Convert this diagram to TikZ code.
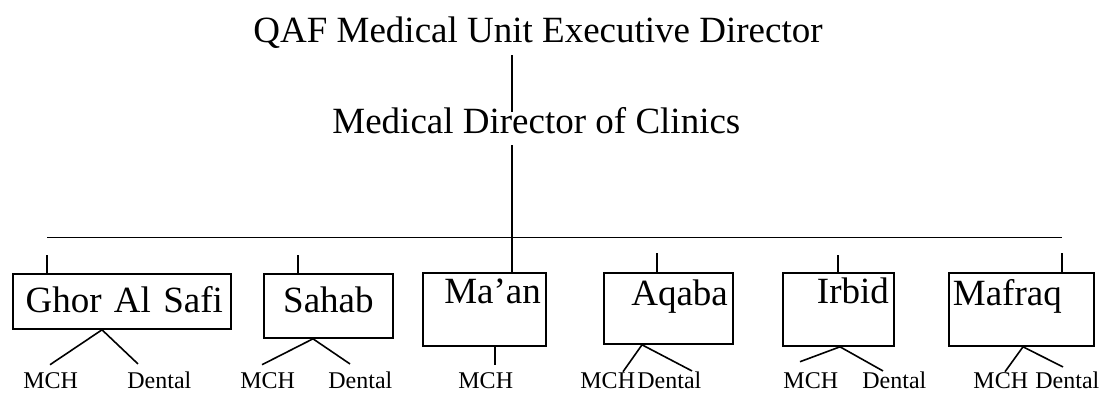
\documentclass[tikz,border=0pt]{standalone}
\usepackage{fontspec}
\setmainfont{Liberation Serif}
\usetikzlibrary{calc}

\begin{document}
\begin{tikzpicture}[
        x=0.5pt, y=-0.5pt,
        headtext/.style={inner sep=0pt, anchor=base west, font=\fontsize{18.5}{22}\selectfont},
        clinicbox/.style={draw=black, line width=0.9pt, inner ysep=0pt, anchor=north west, font=\fontsize{18.5}{22}\selectfont},
        servtext/.style={inner sep=0pt, anchor=base west, font=\fontsize{12}{14}\selectfont},
        mainline/.style={line width=1.4pt},
        stemline/.style={line width=1pt},
        barline/.style={line width=0.5pt},
        branchline/.style={line width=0.8pt}
    ]
        \useasboundingbox (0,0) rectangle (1101,393);

        % Directors
        \node[headtext] (exec) at (253,42) {QAF Medical Unit Executive Director};
        \node[headtext] (mdir) at (332,133) {Medical Director of Clinics};

        % Clinics
        \node[clinicbox, text width=101pt, inner xsep=4pt, text height=19.5pt, text depth=8pt, align=right] (ghor) at (12,273) {Ghor Al Safi};
        \node[clinicbox, text width=54.5pt, inner xsep=5pt, text height=19.5pt, text depth=12.5pt, align=center] (sahab) at (263,273) {Sahab};
        \node[clinicbox, text width=56.5pt, inner xsep=2.5pt, text height=15.5pt, text depth=21pt, align=right] (maan) at (422,272) {Ma’an};
        \node[clinicbox, text width=59.5pt, inner xsep=2.5pt, text height=16.5pt, text depth=19pt, align=right] (aqaba) at (603,272) {Aqaba};
        \node[clinicbox, text width=50.5pt, inner xsep=2.5pt, text height=15.5pt, text depth=21pt, align=right] (irbid) at (782,272) {Irbid};
        \node[clinicbox, text width=68.5pt, inner xsep=2pt, text height=16.5pt, text depth=20pt, align=left] (mafraq) at (948,272) {Mafraq};

        % Services
        \node[servtext] (mch1) at (23,388) {MCH};
        \node[servtext] (den1) at (127,388) {Dental};
        \node[servtext] (mch2) at (240,388) {MCH};
        \node[servtext] (den2) at (328,388) {Dental};
        \node[servtext] (mch3) at (458,388) {MCH};
        \node[servtext] (mch4) at (580,388) {MCH};
        \node[servtext] (den4) at (637,388) {Dental};
        \node[servtext] (mch5) at (783,388) {MCH};
        \node[servtext] (den5) at (862,388) {Dental};
        \node[servtext] (mch6) at (973,388) {MCH};
        \node[servtext] (den6) at (1035,388) {Dental};

        % Main line
        \draw[mainline] ($(exec.base west)+(259,13)$) -- ($(mdir.base west)+(180,-21)$);
        \draw[mainline] ($(mdir.base west)+(180,12)$) -- ($(maan.north west)+(90,0)$);
        \draw[barline] ($(ghor.north west)+(35,-36)$) -- ($(mafraq.north west)+(114,-35)$);

        % Stems
        \draw[stemline] ($(ghor.north west)+(35,-18)$) -- ($(ghor.north west)+(35,0)$);
        \draw[stemline] ($(sahab.north west)+(35,-18)$) -- ($(sahab.north west)+(35,0)$);
        \draw[stemline] ($(aqaba.north west)+(54,-19)$) -- ($(aqaba.north west)+(54,0)$);
        \draw[stemline] ($(irbid.north west)+(56,-17)$) -- ($(irbid.north west)+(56,0)$);
        \draw[stemline] ($(mafraq.north west)+(114,-19)$) -- ($(mafraq.north west)+(114,0)$);

        % Branches
        \draw[branchline] ($(mch1.north west)+(27,-7)$) -- ($(ghor.south west)+(90,0)$) -- ($(den1.north west)+(11,-7)$);
        \draw[branchline] ($(mch2.north west)+(22,-7)$) -- ($(sahab.south west)+(50,0)$) -- ($(den2.north west)+(22,-7)$);
        \draw[branchline] ($(maan.south west)+(73,0)$) -- ($(mch3.north west)+(37,-7)$);
        \draw[branchline] ($(mch4.north west)+(43,0)$) -- ($(aqaba.south west)+(39,0)$) -- ($(den4.north west)+(55,0)$);
        \draw[branchline] ($(mch5.north west)+(17,-10)$) -- ($(irbid.south west)+(58,0)$) -- ($(den5.north west)+(21,0)$);
        \draw[branchline] ($(mch6.north west)+(32,0)$) -- ($(mafraq.south west)+(75,0)$) -- ($(den6.north west)+(28,-4)$);
    \end{tikzpicture}
\end{document}
